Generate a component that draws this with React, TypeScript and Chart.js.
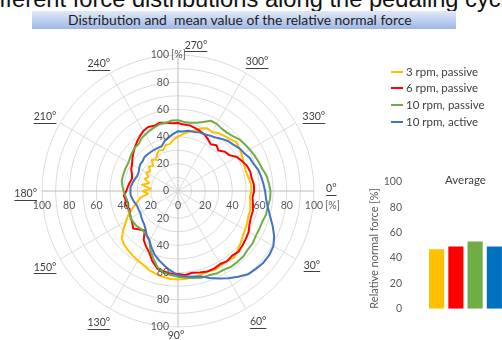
import React, { useEffect, useRef } from 'react';
import { Chart, registerables } from 'chart.js';

Chart.register(...registerables);

// ---- data ----
const angleCategories = Array.from({ length: 72 }, (_, i) => i * 5); // crank angle categories, 5° apart
const angleLabelTexts = ['0°', '30°', '60°', '90°', '130°', '150°', '180°', '210°', '240°', '270°', '300°', '330°'];
const radialTicks = [0, 20, 40, 60, 80, 100];
const seriesNames = ['3 rpm, passive', '6 rpm, passive', '10 rpm, passive', '10 rpm, active'];
const lineColors = ['#FFC000', '#FF0000', '#70AD47', '#4472C4'];
const barColors = ['#FFC000', '#FF0000', '#70AD47', '#0070C0'];

const rpm3Passive = [
  54, 53, 54, 55, 55, 56, 57, 58, 60, 62, 64, 63,
  63, 64, 63, 64, 64, 65, 65, 65, 64, 63, 62, 60,
  59, 58, 57, 56, 54, 49, 44, 40, 35, 31, 28, 22,
  26, 20, 27, 22, 26, 24, 27, 25, 28, 26, 30, 28,
  31, 33, 32, 35, 35, 38, 40, 42, 44, 46, 49, 51,
  50, 52, 53, 54, 56, 55, 54, 53, 52, 52, 53, 54,
];
const rpm6Passive = [
  56, 55, 56, 57, 57, 58, 60, 61, 62, 63, 62, 63,
  62, 63, 63, 62, 61, 62, 61, 61, 60, 59, 55, 50,
  47, 44, 38, 40, 43, 41, 40, 39, 38, 40, 39, 40,
  38, 37, 36, 35, 36, 38, 39, 41, 43, 45, 47, 49,
  51, 52, 51, 52, 51, 50, 50, 49, 49, 48, 47, 46,
  44, 42, 44, 42, 45, 46, 50, 52, 54, 55, 55, 56,
];
const rpm10Passive = [
  68, 68, 67, 67, 66, 66, 66, 67, 67, 68, 68, 68,
  67, 67, 66, 66, 65, 64, 63, 62, 61, 58, 53, 48,
  42, 40, 39, 39, 40, 40, 40, 39, 39, 38, 38, 39,
  40, 41, 42, 42, 42, 42, 42, 43, 44, 45, 45, 47,
  48, 49, 50, 51, 51, 52, 52, 51, 51, 52, 54, 57,
  57, 56, 56, 57, 59, 60, 61, 62, 63, 64, 66, 67,
];
const rpm10Active = [
  64, 65, 67, 70, 74, 78, 81, 82, 82, 81, 80, 77,
  74, 71, 68, 65, 64, 63, 62, 59, 56, 53, 50, 46,
  42, 40, 37, 35, 34, 33, 32, 32, 32, 33, 34, 35,
  35, 35, 34, 33, 32, 32, 33, 34, 34, 35, 35, 35,
  35, 35, 35, 38, 40, 42, 44, 44, 45, 45, 46, 46,
  47, 48, 50, 52, 53, 55, 56, 58, 59, 61, 62, 63,
];
const averageValues = [47, 49, 53, 49];

const seriesData = [rpm3Passive, rpm6Passive, rpm10Passive, rpm10Active];

const FONT = 'Lato, "Open Sans", sans-serif';

// label placement tweaks (style only)
const angleLabelRadius = [112, 112, 112, 106, 112, 112, 112, 112, 112, 107, 112, 112];
const angleLabelShift = [
  [1, -2], [2, -2], [4, -1], [-2, 0], [-3, 0], [-1, 0],
  [0, 3], [-1, 2], [-3, 5], [18, 0], [3, 3], [4, 2],
];

const radarLabelsPlugin = {
  id: 'radarLabels',
  afterDraw(chart: any) {
    const s = chart.scales.r;
    const ctx = chart.ctx as CanvasRenderingContext2D;
    ctx.save();
    ctx.font = `10.5px ${FONT}`;
    ctx.fillStyle = '#595959';
    ctx.textBaseline = 'middle';
    radialTicks.forEach((v) => {
      const n = s.getPointPositionForValue(54, v);
      ctx.textAlign = 'right';
      ctx.fillText(String(v), n.x - 9, n.y);
      if (v === 100) {
        ctx.textAlign = 'left';
        ctx.fillText('[%]', n.x - 7, n.y);
      }
      if (v > 0) {
        const so = s.getPointPositionForValue(18, v);
        ctx.textAlign = 'right';
        ctx.fillText(String(v), so.x - 9, so.y);
        const w = s.getPointPositionForValue(36, v);
        ctx.textAlign = 'center';
        ctx.fillText(String(v), w.x, w.y + 15);
      }
      const e = s.getPointPositionForValue(0, v);
      ctx.textAlign = 'center';
      ctx.fillText(String(v), e.x, e.y + 15);
      if (v === 100) {
        ctx.textAlign = 'left';
        ctx.fillText('[%]', e.x + 11, e.y + 15);
      }
    });
    ctx.fillStyle = '#404040';
    ctx.strokeStyle = '#404040';
    ctx.lineWidth = 1;
    ctx.textAlign = 'center';
    angleLabelTexts.forEach((t, k) => {
      const p = s.getPointPositionForValue(k * 6, angleLabelRadius[k]);
      const x = p.x + angleLabelShift[k][0];
      const y = p.y + angleLabelShift[k][1];
      ctx.fillText(t, x, y);
      const w = ctx.measureText(t).width;
      ctx.beginPath();
      ctx.moveTo(x - w / 2, Math.round(y + 6) + 0.5);
      ctx.lineTo(x + w / 2, Math.round(y + 6) + 0.5);
      ctx.stroke();
    });
    ctx.restore();
  },
};

export default function App() {
  const radarRef = useRef<HTMLCanvasElement>(null);
  const barRef = useRef<HTMLCanvasElement>(null);

  useEffect(() => {
    const radar = new Chart(radarRef.current as HTMLCanvasElement, {
      type: 'radar',
      data: {
        labels: angleCategories,
        datasets: seriesData.map((d, i) => ({
          label: seriesNames[i],
          data: d,
          borderColor: lineColors[i],
          backgroundColor: lineColors[i],
          borderWidth: 2,
          pointRadius: 0,
          fill: false,
          tension: 0,
          borderJoinStyle: 'round',
          order: 4 - i,
        })),
      },
      options: {
        responsive: false,
        animation: false,
        events: [],
        layout: { padding: { left: 42, top: 55, right: 188, bottom: 13 } },
        plugins: { legend: { display: false }, tooltip: { enabled: false }, title: { display: false } },
        scales: {
          r: {
            min: 0,
            max: 100,
            startAngle: 90,
            ticks: { display: false, stepSize: 10 },
            pointLabels: { display: false },
            grid: { circular: true, color: '#dcdcdc', lineWidth: 1 },
            angleLines: {
              display: true,
              color: (c: any) => (c.index % 18 === 0 ? '#bcbcbc' : '#dcdcdc'),
              lineWidth: (c: any) => (c.index % 6 === 0 ? 1 : 0),
            },
          },
        },
      } as any,
      plugins: [radarLabelsPlugin],
    } as any);

    const bar = new Chart(barRef.current as HTMLCanvasElement, {
      type: 'bar',
      data: {
        labels: seriesNames,
        datasets: [
          {
            data: averageValues,
            backgroundColor: barColors,
            barPercentage: 0.785,
            categoryPercentage: 1,
          },
        ],
      },
      options: {
        responsive: false,
        animation: false,
        events: [],
        layout: { padding: { left: 360, right: 16, top: 182, bottom: 20 } },
        plugins: { legend: { display: false }, tooltip: { enabled: false }, title: { display: false } },
        scales: {
          x: { display: false },
          y: {
            min: 0,
            max: 100,
            ticks: { stepSize: 20, padding: 25, color: '#595959', font: { family: FONT, size: 10.5 } },
            grid: { display: false, drawTicks: false },
            border: { display: false },
            title: {
              display: true,
              text: 'Relative normal force [%]',
              align: 'start',
              color: '#595959',
              font: { family: FONT, size: 11 },
              padding: { top: 8, bottom: 0 },
            },
            afterFit: (sc: any) => {
              sc.width = 67;
            },
          },
        },
      } as any,
    } as any);

    return () => {
      radar.destroy();
      bar.destroy();
    };
  }, []);

  const legendRowsY = [71.5, 88, 105, 121.5];

  return (
    <div
      style={{
        position: 'fixed',
        left: 0,
        top: 0,
        width: 502,
        height: 340,
        overflow: 'hidden',
        background: '#ffffff',
        fontFamily: FONT,
      }}
    >
      <div
        style={{
          position: 'absolute',
          left: -23,
          top: -12,
          fontFamily: '"Liberation Sans", Arial, sans-serif',
          fontSize: 23.7,
          lineHeight: '23.7px',
          whiteSpace: 'nowrap',
          color: '#111',
        }}
      >
        Different force distributions along the pedaling cycle
      </div>
      <div
        style={{
          position: 'absolute',
          left: 32,
          top: 11,
          width: 424,
          height: 18,
          background: 'linear-gradient(to bottom, #e2e9f8 0%, #bccdee 55%, #a1b6e5 100%)',
        }}
      />
      <div
        style={{
          position: 'absolute',
          left: 68,
          top: 11,
          height: 18,
          lineHeight: '18px',
          fontSize: 13.9,
          color: '#1e1e1e',
          whiteSpace: 'pre',
        }}
      >
        {'Distribution and  mean value of the relative normal force'}
      </div>
      <canvas ref={barRef} width={520} height={340} style={{ position: 'absolute', left: 0, top: 0 }} />
      <canvas ref={radarRef} width={502} height={340} style={{ position: 'absolute', left: 0, top: 0 }} />
      {seriesNames.map((name, i) => (
        <div
          key={name}
          style={{
            position: 'absolute',
            left: 391,
            top: legendRowsY[i] - 8,
            height: 16,
            display: 'flex',
            alignItems: 'center',
            whiteSpace: 'nowrap',
          }}
        >
          <div style={{ width: 12, height: 2, background: lineColors[i], marginRight: 3 }} />
          <span style={{ fontSize: 11.5, color: '#404040', lineHeight: '16px' }}>{name}</span>
        </div>
      ))}
      <div
        style={{
          position: 'absolute',
          left: 445,
          top: 173,
          fontSize: 11.5,
          lineHeight: '14px',
          color: '#404040',
          whiteSpace: 'nowrap',
        }}
      >
        Average
      </div>
    </div>
  );
}
